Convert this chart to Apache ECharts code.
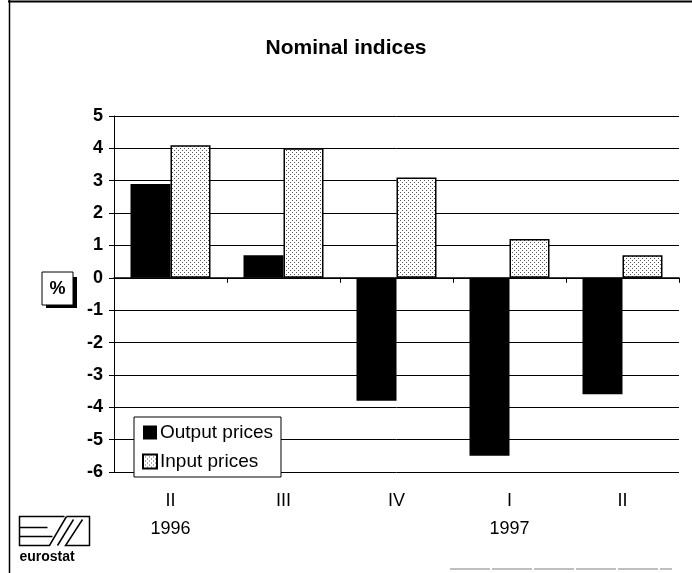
<!DOCTYPE html>
<html>
<head>
<meta charset="utf-8">
<script src="https://cdn.jsdelivr.net/npm/echarts@6/dist/echarts.min.js"></script>
<style>
  html, body { margin: 0; padding: 0; background: #fff; }
  #chart { width: 692px; height: 573px; }
</style>
</head>
<body>
<div id="chart"></div>
<script>
  var quarters = ['II', 'III', 'IV', 'I', 'II'];
  var years = ['1996', '', '', '1997', ''];
  var outputPrices = [2.9, 0.7, -3.8, -5.5, -3.6];
  var inputPrices = [4.1, 4.0, 3.1, 1.2, 0.7];
  var yMin = -6, yMax = 5, yStep = 1;

  var FONT = '"Liberation Sans", Arial, sans-serif';

  // light dotted fill like the scanned "Input prices" bars
  function dotPattern() {
    var c = document.createElement('canvas');
    c.width = 4;
    c.height = 4;
    var ctx = c.getContext('2d');
    ctx.fillStyle = '#fff';
    ctx.fillRect(0, 0, 4, 4);
    ctx.fillStyle = '#555';
    ctx.fillRect(0, 0, 1, 1);
    ctx.fillRect(2, 2, 1, 1);
    return c;
  }

  var chart = echarts.init(document.getElementById('chart'));
  chart.setOption({
    backgroundColor: '#fff',
    animation: false,
    title: {
      text: 'Nominal indices',
      left: 'center',
      top: 33,
      textStyle: { fontFamily: FONT, fontSize: 21, fontWeight: 'bold', color: '#000' }
    },
    legend: {
      orient: 'vertical',
      left: 134,
      top: 417,
      padding: [6, 8, 6, 8],
      itemWidth: 14,
      itemHeight: 14,
      itemGap: 10,
      backgroundColor: '#fff',
      borderColor: '#000',
      borderWidth: 1,
      icon: 'rect',
      textStyle: { fontFamily: FONT, fontSize: 19, color: '#000', padding: [0, 0, 0, -2] },
      data: ['Output prices', 'Input prices']
    },
    grid: { left: 114, right: 13, top: 116, bottom: 101 },
    xAxis: [
      {
        type: 'category',
        data: quarters,
        axisLine: { onZero: true, lineStyle: { color: '#000', width: 1.5 } },
        axisTick: { show: true, length: 5, lineStyle: { color: '#000' } },
        axisLabel: { show: false },
        splitLine: { show: false }
      },
      {
        type: 'category',
        data: quarters,
        position: 'bottom',
        axisLine: { show: false, onZero: false },
        axisTick: { show: false },
        axisLabel: {
          margin: 15,
          fontFamily: FONT,
          fontSize: 18,
          color: '#000',
          lineHeight: 28,
          formatter: function (v, i) {
            return years[i] ? v + '\n' + years[i] : v;
          }
        }
      }
    ],
    yAxis: {
      type: 'value',
      min: yMin,
      max: yMax,
      interval: yStep,
      axisLine: { show: true, lineStyle: { color: '#000', width: 1 } },
      axisTick: { show: true, length: 5, lineStyle: { color: '#000' } },
      axisLabel: { margin: 11, fontFamily: FONT, fontSize: 18, fontWeight: 'bold', color: '#000' },
      splitLine: { show: true, lineStyle: { color: '#000', width: 1 } }
    },
    series: [
      {
        name: 'Output prices',
        type: 'bar',
        xAxisIndex: 0,
        barWidth: 40,
        barGap: '0%',
        itemStyle: { color: '#000' },
        data: outputPrices
      },
      {
        name: 'Input prices',
        type: 'bar',
        xAxisIndex: 0,
        barWidth: 40,
        barGap: '0%',
        itemStyle: {
          color: { image: dotPattern(), repeat: 'repeat' },
          borderColor: '#000',
          borderWidth: 1.5
        },
        data: inputPrices
      }
    ],
    graphic: [
      // page frame
      { type: 'line', shape: { x1: 8, y1: 1.5, x2: 692, y2: 1.5 }, style: { stroke: '#000', lineWidth: 2 } },
      { type: 'line', shape: { x1: 9.5, y1: 0, x2: 9.5, y2: 573 }, style: { stroke: '#000', lineWidth: 1.5 } },
      { type: 'line', shape: { x1: 450, y1: 569, x2: 672, y2: 569 }, style: { stroke: '#aaa', lineWidth: 1.5, lineDash: [40, 2] } },
      // "%" unit box with drop shadow on the right
      { type: 'rect', shape: { x: 46, y: 277, width: 31, height: 31 }, style: { fill: '#000' } },
      { type: 'rect', shape: { x: 42, y: 272, width: 31, height: 33 }, style: { fill: '#fff', stroke: '#000', lineWidth: 1 } },
      {
        type: 'text', x: 57.5, y: 289,
        style: { text: '%', fontFamily: FONT, fontSize: 18, fontWeight: 'bold', fill: '#000', align: 'center', verticalAlign: 'middle' }
      },
      // eurostat logo
      {
        type: 'group',
        left: 17,
        top: 514,
        children: [
          { type: 'polyline', shape: { points: [[45, 0], [0, 0], [0, 29], [30, 29], [47, 0]] }, style: { fill: null, stroke: '#000', lineWidth: 1.5 } },
          { type: 'line', shape: { x1: 0, y1: 11, x2: 28, y2: 11 }, style: { stroke: '#000', lineWidth: 1.5 } },
          { type: 'line', shape: { x1: 0, y1: 20, x2: 33, y2: 20 }, style: { stroke: '#000', lineWidth: 1.5 } },
          { type: 'polyline', shape: { points: [[47, 0], [70, 0], [70, 29], [46, 29], [63, 3]] }, style: { fill: null, stroke: '#000', lineWidth: 1.5 } },
          { type: 'line', shape: { x1: 38, y1: 29, x2: 54, y2: 3 }, style: { stroke: '#000', lineWidth: 1.5 } },
          {
            type: 'text', x: 0, y: 34,
            style: { text: 'eurostat', fontFamily: FONT, fontSize: 14, fontWeight: 'bold', fill: '#000' }
          }
        ]
      }
    ]
  });
</script>
</body>
</html>
